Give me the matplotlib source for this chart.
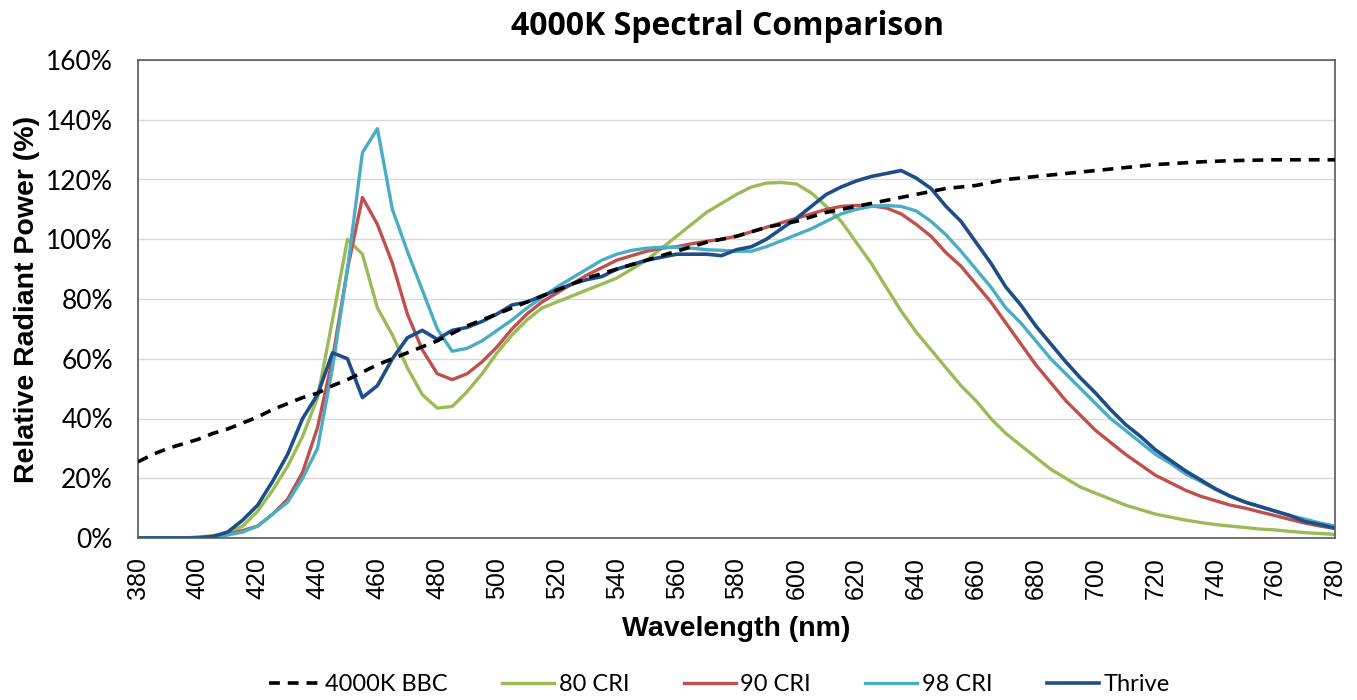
import matplotlib
matplotlib.use('Agg')
import matplotlib.pyplot as plt
from matplotlib.ticker import FuncFormatter

plt.rcParams['font.family'] = ['Lato', 'DejaVu Sans']

# wavelength (nm), 5 nm steps
wavelength = list(range(380, 781, 5))

bbc_4000k = [
    25.5, 28, 30, 31.5, 33, 35, 36.5, 38.5, 40.5, 43,
    45, 47, 48.5, 51, 53, 55.5, 58, 60, 62, 64,
    66, 68.5, 71, 73, 75, 77, 79, 81, 83, 85,
    87, 88.5, 90, 91.5, 93, 94.5, 96, 97.5, 99, 100,
    101, 102.5, 104, 105, 106, 107.5, 109, 110, 111, 112,
    113, 114, 115, 116, 117, 117.5, 118, 119, 120, 120.5,
    121, 121.5, 122, 122.5, 123, 123.5, 124, 124.5, 125, 125.3,
    125.6, 125.9, 126.1, 126.3, 126.4, 126.5, 126.6, 126.6, 126.6, 126.6,
    126.6,
]
cri_80 = [
    0, 0, 0, 0, 0.3, 0.8, 1.5, 4, 9, 16,
    24, 34, 47, 73, 100, 95, 77, 68, 57, 48,
    43.5, 44, 49, 55, 62, 68, 73, 77, 79, 81,
    83, 85, 87, 90, 93, 97, 101, 105, 109, 112,
    115, 117.5, 118.8, 119, 118.5, 115.5, 111, 106, 99, 92,
    84, 76, 69, 63, 57, 51, 46, 40, 35, 31,
    27, 23, 20, 17, 15, 13, 11, 9.5, 8, 7,
    6, 5.2, 4.5, 4, 3.5, 3, 2.7, 2.2, 1.8, 1.5,
    1.2,
]
cri_90 = [
    0, 0, 0, 0, 0.2, 0.5, 1.2, 2.5, 4, 8,
    13, 22, 37, 60, 90, 114, 105, 92, 75, 63,
    55, 53, 55, 59, 64, 70, 75, 79, 82, 85,
    88, 90.5, 93, 94.5, 96, 97, 97.5, 98.5, 99.3, 100,
    101, 102.5, 104, 105.5, 107, 108.5, 110, 111, 111.3, 111.2,
    110.5, 108.5, 105, 101, 95.5, 91, 85, 79, 72, 65,
    58, 52, 46, 41, 36, 32, 28, 24.5, 21, 18.5,
    16, 14, 12.5, 11, 10, 8.7, 7.5, 6.2, 5, 4,
    3.2,
]
cri_98 = [
    0, 0, 0, 0, 0, 0.3, 1, 2, 4, 8,
    12, 20, 30, 57, 90, 129, 137, 110, 96, 83,
    70, 62.5, 63.5, 66, 69.5, 73, 77, 80.5, 84, 87,
    90, 93, 95, 96.3, 97, 97.3, 97.3, 97, 96.5, 96.3,
    96, 96, 97.5, 99.5, 101.5, 103.5, 106, 108.5, 110, 111,
    111.3, 111, 109.5, 106, 101.5, 96, 90, 84, 77, 72,
    66, 60, 55, 50, 45, 40, 36, 32, 28, 25,
    21.5, 19, 16.3, 14, 12, 10.5, 9, 7.5, 6.3, 5,
    4,
]
thrive = [
    0, 0, 0, 0, 0, 0.5, 2, 6, 11, 19,
    28, 40, 48, 62, 60, 47, 51, 60, 67, 69.5,
    66.5, 69.5, 70.5, 72.5, 75, 78, 79, 81, 83, 85,
    86.5, 87.5, 90, 91.5, 93, 94, 95, 95, 95, 94.5,
    96.5, 97.5, 100, 103.5, 107, 111, 115, 117.5, 119.5, 121,
    122, 123, 120.5, 117, 111, 106, 99, 92, 84, 78,
    71, 65, 59, 53.5, 48.5, 43, 38, 34, 29.5, 26,
    22.5, 19.5, 16.5, 14, 12, 10.5, 9, 7.5, 5.5, 4.5,
    3.3,
]

fig = plt.figure(figsize=(13.57, 7.0), dpi=100)
ax = fig.add_axes([138 / 1357, 1 - 538 / 700, (1335 - 138) / 1357, (538 - 60) / 700])

ax.plot(wavelength, bbc_4000k, color='black', lw=2.6, ls=(0, (3, 2.2)), label='4000K BBC', zorder=3)
ax.plot(wavelength, cri_80, color='#9BBB59', lw=2.4, label='80 CRI')
ax.plot(wavelength, cri_90, color='#C0504D', lw=2.4, label='90 CRI')
ax.plot(wavelength, cri_98, color='#4BACC6', lw=2.4, label='98 CRI')
ax.plot(wavelength, thrive, color='#1F4E87', lw=2.6, label='Thrive')

ax.set_xlim(380, 780)
ax.set_ylim(0, 160)
ax.set_xticks(range(380, 781, 20))
ax.set_yticks(range(0, 161, 20))
ax.yaxis.set_major_formatter(FuncFormatter(lambda v, p: f'{int(v)}%'))
ax.tick_params(axis='x', labelrotation=90, length=0, pad=14)
ax.tick_params(axis='y', labelsize=19, length=0, pad=18)
for t in ax.get_xticklabels():
    t.set_family(['Liberation Sans', 'DejaVu Sans'])
    t.set_fontsize(18)
ax.grid(axis='y', color='#d9d9d9', lw=1)
ax.set_axisbelow(True)
for s in ax.spines.values():
    s.set_color('#595959')
    s.set_linewidth(1.2)

ax.set_xlabel('Wavelength (nm)', fontsize=20.5, fontweight='bold', labelpad=12,
              family=['Liberation Sans', 'DejaVu Sans'])
ax.set_ylabel('Relative Radiant Power (%)', fontsize=20.5, fontweight='bold', labelpad=4,
              family=['Liberation Sans', 'DejaVu Sans'])
fig.text(0.536, 0.962, '4000K Spectral Comparison', fontsize=23, fontweight='bold',
         ha='center', va='center', family=['Open Sans', 'DejaVu Sans'])

fig.legend(loc='center', bbox_to_anchor=(0.53, 0.022), ncol=5, frameon=False,
           fontsize=17, handlelength=2.2, handletextpad=0.2, columnspacing=2.3)

fig.savefig('out.png', dpi=100)
